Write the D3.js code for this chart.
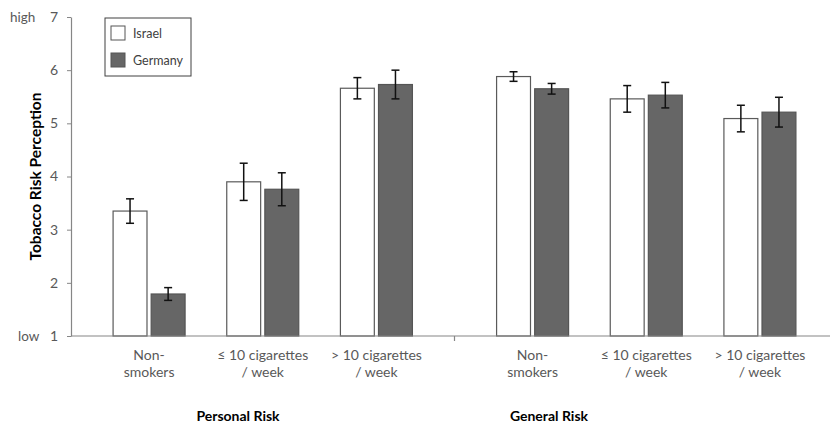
<!DOCTYPE html>
<html>
<head>
<meta charset="utf-8">
<script src="https://cdn.jsdelivr.net/npm/d3@7"></script>
<style>
  body { margin: 0; background: #fff; }
  svg text { font-family: Lato, "Liberation Sans", sans-serif; }
</style>
</head>
<body>
<div id="chart"></div>
<script>
// Data
const groups = ["Personal Risk", "General Risk"];
const categories = [["Non-", "smokers"], ["\u2264 10 cigarettes", "/ week"], ["> 10 cigarettes", "/ week"]];
const series = ["Israel", "Germany"];
const israel = [[3.35, 3.90, 5.66], [5.88, 5.46, 5.09]];
const germany = [[1.79, 3.76, 5.73], [5.65, 5.53, 5.21]];
const israelErr = [[0.23, 0.35, 0.20], [0.09, 0.25, 0.25]];
const germanyErr = [[0.12, 0.31, 0.27], [0.10, 0.24, 0.28]];
const yTicks = [1, 2, 3, 4, 5, 6, 7];

const W = 830, H = 429;
const plotLeft = 71, plotRight = 838, plotTop = 17, plotBottom = 336;

const svg = d3.select("#chart").append("svg")
  .attr("width", W).attr("height", H);

const y = d3.scaleLinear().domain([1, 7]).range([plotBottom, plotTop]);

// outer scale: two groups
const xGroup = d3.scaleBand().domain(groups).range([plotLeft, plotRight]).padding(0);
// inner: three categories inside a group
const xCat = d3.scaleBand().domain(d3.range(3)).range([0, xGroup.bandwidth()])
  .paddingInner(0).paddingOuter(0.187);
// bars inside a category
const pairW = 72;
const xSer = d3.scaleBand().domain(series).range([0, pairW]).paddingInner(0.11);

const fills = { Israel: "#ffffff", Germany: "#666666" };

const bars = [];
groups.forEach((g, gi) => {
  categories.forEach((c, ci) => {
    const x0 = xGroup(g) + xCat(ci) + (xCat.bandwidth() - pairW) / 2;
    bars.push({ s: "Israel", x: x0 + xSer("Israel"), v: israel[gi][ci], e: israelErr[gi][ci] });
    bars.push({ s: "Germany", x: x0 + xSer("Germany"), v: germany[gi][ci], e: germanyErr[gi][ci] });
  });
});

// Bars
svg.selectAll("rect.bar").data(bars).enter().append("rect")
  .attr("class", "bar")
  .attr("x", d => d.x)
  .attr("y", d => y(d.v))
  .attr("width", xSer.bandwidth())
  .attr("height", d => y(1) - y(d.v))
  .attr("fill", d => fills[d.s])
  .attr("stroke", d => d.s === "Israel" ? "#5a5a5a" : "#555")
  .attr("stroke-width", 1.2);

// Error bars
const eb = svg.selectAll("g.err").data(bars).enter().append("g")
  .attr("class", "err")
  .attr("stroke", "#111").attr("stroke-width", 1.5);
const cx = d => d.x + xSer.bandwidth() / 2;
eb.append("line").attr("x1", cx).attr("x2", cx)
  .attr("y1", d => y(d.v + d.e)).attr("y2", d => y(d.v - d.e));
eb.append("line").attr("x1", d => cx(d) - 4).attr("x2", d => cx(d) + 4)
  .attr("y1", d => y(d.v + d.e)).attr("y2", d => y(d.v + d.e));
eb.append("line").attr("x1", d => cx(d) - 4).attr("x2", d => cx(d) + 4)
  .attr("y1", d => y(d.v - d.e)).attr("y2", d => y(d.v - d.e));

// Y axis
const yAxis = svg.append("g")
  .attr("transform", `translate(${plotLeft},0)`)
  .call(d3.axisLeft(y).tickValues(yTicks).tickFormat(d3.format("d"))
    .tickSize(4).tickPadding(9).tickSizeOuter(0));
yAxis.select(".domain").attr("stroke", "#868686").attr("stroke-width", 1.2);
yAxis.selectAll(".tick line").attr("stroke", "#868686");
yAxis.selectAll(".tick text").attr("fill", "#595959").style("font-size", "14px");

// X axis line and group divider
svg.append("line")
  .attr("x1", plotLeft).attr("x2", W)
  .attr("y1", y(1)).attr("y2", y(1))
  .attr("stroke", "#868686").attr("stroke-width", 1.2);
svg.append("line")
  .attr("x1", xGroup("General Risk")).attr("x2", xGroup("General Risk"))
  .attr("y1", y(1)).attr("y2", y(1) + 5)
  .attr("stroke", "#868686").attr("stroke-width", 1.2);

// Category labels
groups.forEach((g, gi) => {
  categories.forEach((c, ci) => {
    const t = svg.append("text")
      .attr("x", xGroup(g) + xCat(ci) + xCat.bandwidth() / 2)
      .attr("y", y(1) + 24)
      .attr("text-anchor", "middle")
      .attr("fill", "#595959")
      .style("font-size", "14px");
    c.forEach((line, li) => {
      t.append("tspan")
        .attr("x", xGroup(g) + xCat(ci) + xCat.bandwidth() / 2)
        .attr("dy", li === 0 ? 0 : 17)
        .text(line);
    });
  });
});

// Group labels
const groupLabelX = [238, 549];
groups.forEach((g, gi) => {
  svg.append("text")
    .attr("x", groupLabelX[gi])
    .attr("y", 421)
    .attr("text-anchor", "middle")
    .attr("fill", "#000")
    .style("font-size", "14px")
    .style("font-weight", "bold")
    .text(g);
});

// high / low
svg.append("text").attr("x", 10).attr("y", y(7) + 5)
  .attr("fill", "#595959").style("font-size", "13.5px").text("high");
svg.append("text").attr("x", 18).attr("y", y(1) + 5)
  .attr("fill", "#595959").style("font-size", "13.5px").text("low");

// Y title
svg.append("text")
  .attr("transform", `translate(41,${(plotTop + plotBottom) / 2}) rotate(-90)`)
  .attr("text-anchor", "middle")
  .style("font-size", "15.5px")
  .style("font-weight", "bold")
  .attr("fill", "#000")
  .text("Tobacco Risk Perception");

// Legend
const lg = svg.append("g").attr("transform", "translate(105,18)");
lg.append("rect").attr("width", 86).attr("height", 58)
  .attr("fill", "#fff").attr("stroke", "#404040").attr("stroke-width", 1);
series.forEach((s, i) => {
  lg.append("rect").attr("x", 6).attr("y", 8 + i * 27)
    .attr("width", 14).attr("height", 14)
    .attr("fill", fills[s]).attr("stroke", "#555").attr("stroke-width", 1);
  lg.append("text").attr("x", 28).attr("y", 20 + i * 27)
    .attr("fill", "#404040").style("font-size", "12.5px").text(s);
});
</script>
</body>
</html>
